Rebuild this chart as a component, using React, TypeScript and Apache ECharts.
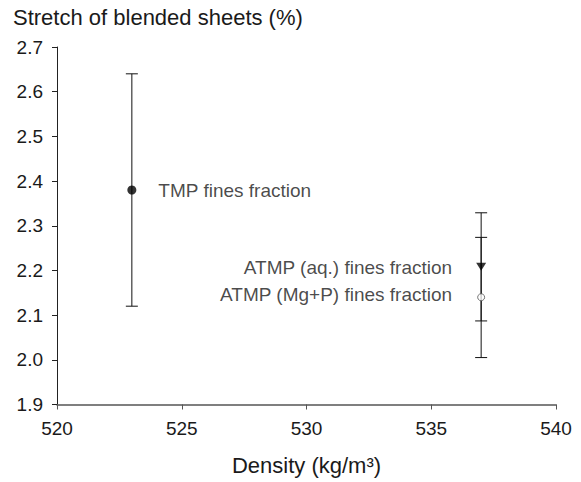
import React, { useEffect, useRef } from "react";
import * as echarts from "echarts";

const seriesNames = ["TMP fines fraction", "ATMP (aq.) fines fraction", "ATMP (Mg+P) fines fraction"];
const densities = [523, 537, 537];
const stretchMeans = [2.38, 2.208, 2.14];
const stretchLow = [2.12, 2.087, 2.005];
const stretchHigh = [2.64, 2.329, 2.274];

const xMin = 520;
const xMax = 540;
const xInterval = 5;
const yMin = 1.9;
const yMax = 2.7;
const yInterval = 0.1;

const FONT = "'Liberation Sans', Arial, sans-serif";
const TXT = "#1a1a1a";

export default function App() {
  const ref = useRef<HTMLDivElement>(null);
  useEffect(() => {
    if (!ref.current) return;
    const chart = echarts.init(ref.current, undefined, { renderer: "svg" });
    const errData = densities.map((d, i) => [d, stretchLow[i], stretchHigh[i]]);
    const capHalf = 6;
    const option: any = {
      animation: false,
      textStyle: { fontFamily: FONT },
      title: {
        text: "Stretch of blended sheets (%)",
        left: 13,
        top: 6,
        padding: 0,
        textStyle: { fontFamily: FONT, fontSize: 22, lineHeight: 22, fontWeight: "normal", color: TXT },
      },
      grid: { left: 57, right: 25, top: 47, bottom: 77.5, containLabel: false },
      xAxis: {
        type: "value",
        min: xMin,
        max: xMax,
        interval: xInterval,
        name: "Density (kg/m³)",
        nameLocation: "middle",
        nameGap: 50,
        nameTextStyle: { fontFamily: FONT, fontSize: 22, color: TXT },
        axisLine: { show: true, lineStyle: { color: "#555", width: 1.5 } },
        axisTick: { show: true, length: 5, inside: false, lineStyle: { color: "#555" } },
        axisLabel: { fontFamily: FONT, fontSize: 19, color: TXT, margin: 14 },
        splitLine: { show: false },
      },
      yAxis: {
        type: "value",
        min: yMin,
        max: yMax,
        interval: yInterval,
        axisLine: { show: true, lineStyle: { color: "#222", width: 1 } },
        axisTick: { show: true, length: 5, inside: false, lineStyle: { color: "#222" } },
        axisLabel: {
          fontFamily: FONT,
          fontSize: 19,
          color: TXT,
          margin: 14,
          formatter: (v: number) => v.toFixed(1),
        },
        splitLine: { show: false },
      },
      series: [
        {
          type: "custom",
          name: "errors",
          z: 1,
          data: errData,
          renderItem: (params: any, api: any) => {
            const x = api.value(0);
            const lo = api.coord([x, api.value(1)]);
            const hi = api.coord([x, api.value(2)]);
            const style = { stroke: "#111", lineWidth: 1 };
            return {
              type: "group",
              children: [
                { type: "line", shape: { x1: lo[0], y1: lo[1], x2: hi[0], y2: hi[1] }, style },
                { type: "line", shape: { x1: lo[0] - capHalf, y1: lo[1], x2: lo[0] + capHalf, y2: lo[1] }, style },
                { type: "line", shape: { x1: hi[0] - capHalf, y1: hi[1], x2: hi[0] + capHalf, y2: hi[1] }, style },
              ],
            };
          },
        },
        {
          type: "scatter",
          name: seriesNames[0],
          z: 3,
          data: [[densities[0], stretchMeans[0]]],
          symbol: "circle",
          symbolSize: 9,
          itemStyle: { color: "#000" },
          label: {
            show: true,
            position: "right",
            distance: 22,
            formatter: seriesNames[0],
            fontFamily: FONT,
            fontSize: 19,
            color: TXT,
          },
        },
        {
          type: "scatter",
          name: seriesNames[1],
          z: 3,
          data: [[densities[1], stretchMeans[1]]],
          symbol: "triangle",
          symbolRotate: 180,
          symbolSize: [10, 8],
          itemStyle: { color: "#000" },
          label: {
            show: true,
            position: "left",
            distance: 24,
            offset: [0, 1],
            formatter: seriesNames[1],
            fontFamily: FONT,
            fontSize: 19,
            color: TXT,
          },
        },
        {
          type: "scatter",
          name: seriesNames[2],
          z: 3,
          data: [[densities[2], stretchMeans[2]]],
          symbol: "circle",
          symbolSize: 7,
          itemStyle: { color: "#fff", borderColor: "#555", borderWidth: 1 },
          label: {
            show: true,
            position: "left",
            distance: 25,
            offset: [0, -3],
            formatter: seriesNames[2],
            fontFamily: FONT,
            fontSize: 19,
            color: TXT,
          },
        },
      ],
    };
    chart.setOption(option);
    return () => chart.dispose();
  }, []);
  return <div ref={ref} style={{ width: 581, height: 482, margin: "-8px 0 0 -8px" }} />;
}
